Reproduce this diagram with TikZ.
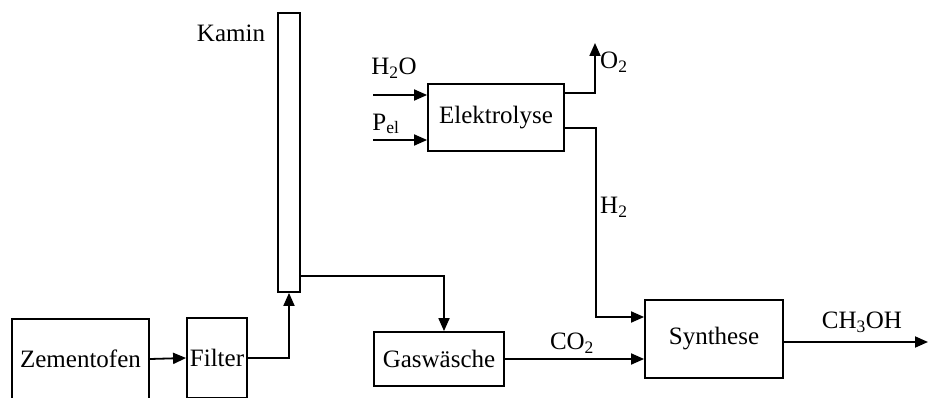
\documentclass[tikz,border=0pt]{standalone}
\usepackage{fontspec}
\setmainfont{Liberation Serif}
\usetikzlibrary{arrows.meta,calc}
\tikzset{
  box/.style={draw, line width=1.8pt, inner sep=0pt, rectangle},
  flow/.style={line width=1.8pt, -{Triangle[length=13pt,width=11pt]}},
  lbl/.style={inner sep=0pt}
}
\begin{document}
\begin{tikzpicture}[x=1pt,y=-1pt,font=\fontsize{25}{30}\selectfont]
\useasboundingbox (0,0) rectangle (928,398);
% boxes
\node[box, minimum width=137pt, minimum height=80pt] (Z) at (80.5,359) {Zementofen};
\node[box, minimum width=60pt, minimum height=80pt] (F) at (217,358) {Filter};
\node[box, minimum width=22pt, minimum height=279pt] (K) at (289,152.5) {};
\node[box, minimum width=136pt, minimum height=67pt] (E) at (496,117.5) {Elektrolyse};
\node[box, minimum width=130pt, minimum height=54pt] (G) at (439,359) {Gaswäsche};
\node[box, minimum width=138pt, minimum height=78pt] (S) at (714,339) {Synthese};
% labels
\node[lbl] (lk) at (231,33) {Kamin};
\node[lbl] (lh2o) at (394,68) {H\textsubscript{2}O};
\node[lbl] (lpel) at (386,124) {P\textsubscript{el}};
\node[lbl, anchor=west] (lo2) at (600,62) {O\textsubscript{2}};
\node[lbl, anchor=west] (lh2) at (600,207) {H\textsubscript{2}};
\node[lbl] (lco2) at (572,343) {CO\textsubscript{2}};
\node[lbl] (lmeoh) at (862,322) {CH\textsubscript{3}OH};
% free ends
\coordinate (h2oin) at (373,95);
\coordinate (pin) at (373,140);
\coordinate (o2) at (595,43);
\coordinate (hbend) at (596,317);
\coordinate (gbend) at (444,276);
\coordinate (meoh) at (928,342);
% connectors
\draw[flow] (Z.east) -- (F.west);
\draw[flow] (F.east) -| (K.south);
\draw[flow] (K.east |- gbend) -| ([xshift=5pt]G.north);
\draw[flow] (h2oin) -- (h2oin -| E.west);
\draw[flow] (pin) -- (pin -| E.west);
\draw[flow] ($(E.east)+(0,-24.5)$) -| (o2);
\draw[flow] ($(E.east)+(0,10.5)$) -| (hbend) -- (hbend -| S.west);
\draw[flow] (G.east) -- (G.east -| S.west);
\draw[flow] ($(S.east)+(0,3)$) -- (meoh);
\end{tikzpicture}
\end{document}
